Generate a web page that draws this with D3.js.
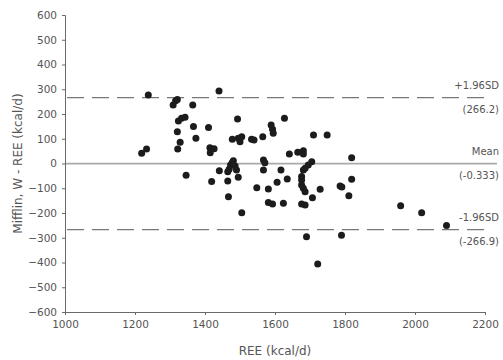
<!DOCTYPE html>
<html>
<head>
<meta charset="utf-8">
<script src="https://cdn.jsdelivr.net/npm/d3@7"></script>
<style>
  body { margin: 0; background: #fff; }
  svg { font-family: "DejaVu Sans", sans-serif; }
</style>
</head>
<body>
<div id="chart"></div>
<script>
// REE (kcal/d) vs Mifflin - REE difference
const ree = [1219, 1233, 1238, 1309, 1316, 1321, 1324, 1333, 1343, 1321, 1329, 1322, 1346,
  1365, 1367, 1374, 1410, 1414, 1426, 1415, 1440, 1419, 1441, 1465, 1465, 1467, 1493, 1478,
  1495, 1505, 1500, 1533, 1540, 1565, 1589, 1593, 1595, 1627, 1710, 1749, 1641, 1665, 1681,
  1681, 1819, 1481, 1473, 1486, 1469, 1490, 1495, 1478, 1567, 1571, 1567, 1617, 1705, 1695,
  1686, 1681, 1548, 1581, 1606, 1635, 1676, 1676, 1676, 1681, 1686, 1729, 1786, 1791, 1819,
  1811, 1707, 1581, 1593, 1624, 1676, 1686, 1505, 1690, 1790, 1722, 1959, 2019, 2090];
const diff = [41, 59, 277, 236, 254, 259, 172, 183, 187, 128, 86, 59, -47,
  236, 149, 102, 145, 64, 60, 43, 293, -73, -29, -33, -71, -134, 180, 98,
  102, 108, 88, 98, 95, 108, 156, 138, 122, 183, 115, 115, 38, 45, 52,
  38, 23, 11, -6, -10, -23, -26, -56, 4, 14, 3, -26, -26, 7, -6,
  -19, -26, -98, -103, -76, -63, -53, -67, -87, -100, -114, -104, -91, -95, -64,
  -130, -138, -158, -164, -161, -164, -168, -199, -296, -290, -406, -171, -199, -251];

const xTicks = [1000, 1200, 1400, 1600, 1800, 2000, 2200];
const yTicks = [-600, -500, -400, -300, -200, -100, 0, 100, 200, 300, 400, 500, 600];

const meanDiff = -0.333;
const upperLoA = 266.2;
const lowerLoA = -266.9;
const refLabels = [
  { v: upperLoA, name: "+1.96SD", val: "(266.2)" },
  { v: meanDiff, name: "Mean", val: "(-0.333)" },
  { v: lowerLoA, name: "-1.96SD", val: "(-266.9)" }
];

const width = 503, height = 360;
const margin = { top: 15, right: 18, bottom: 48, left: 65 };

const svg = d3.select("#chart").append("svg")
  .attr("width", width)
  .attr("height", height);

const x = d3.scaleLinear().domain([1000, 2200]).range([margin.left, width - margin.right]);
const y = d3.scaleLinear().domain([-600, 600]).range([height - margin.bottom, margin.top]);

const axisColor = "#6a6a6a";
const textColor = "#555";

// reference lines
svg.append("line")
  .attr("x1", x(1000)).attr("x2", 497)
  .attr("y1", y(meanDiff)).attr("y2", y(meanDiff))
  .attr("stroke", "#aaa").attr("stroke-width", 1.6);

[upperLoA, lowerLoA].forEach(v => {
  svg.append("line")
    .attr("x1", x(1000) + 2).attr("x2", 485)
    .attr("y1", y(v)).attr("y2", y(v))
    .attr("stroke", "#777").attr("stroke-width", 1.3)
    .attr("stroke-dasharray", "17,8");
});

// axes
const xAxis = svg.append("g")
  .attr("transform", `translate(0,${y(-600)})`)
  .call(d3.axisBottom(x).tickValues(xTicks).tickFormat(d3.format("d")).tickSize(3).tickPadding(6));
const yAxis = svg.append("g")
  .attr("transform", `translate(${x(1000)},0)`)
  .call(d3.axisLeft(y).tickValues(yTicks).tickFormat(d3.format("d")).tickSize(3).tickPadding(5));

[xAxis, yAxis].forEach(g => {
  g.select(".domain").attr("stroke", axisColor);
  g.selectAll(".tick line").attr("stroke", axisColor);
  g.selectAll(".tick text")
    .attr("fill", textColor)
    .style("font-size", "10.5px")
    .style("font-family", "DejaVu Sans, sans-serif");
});

// points
svg.append("g")
  .selectAll("circle")
  .data(ree.map((r, i) => ({ r, d: diff[i] })))
  .join("circle")
  .attr("cx", d => x(d.r))
  .attr("cy", d => y(d.d))
  .attr("r", 3.5)
  .attr("fill", "#1c1c1c");

// right-hand labels
refLabels.forEach(l => {
  svg.append("text")
    .attr("x", 499).attr("y", y(l.v) - 9)
    .attr("text-anchor", "end")
    .attr("fill", textColor)
    .style("font-size", "10px")
    .text(l.name);
  svg.append("text")
    .attr("x", 499).attr("y", y(l.v) + 15)
    .attr("text-anchor", "end")
    .attr("fill", textColor)
    .style("font-size", "10px")
    .text(l.val);
});

// axis titles
svg.append("text")
  .attr("x", (x(1000) + x(2200)) / 2)
  .attr("y", 355)
  .attr("text-anchor", "middle")
  .attr("fill", textColor)
  .style("font-size", "12px")
  .text("REE (kcal/d)");

svg.append("text")
  .attr("transform", `translate(22,${y(0)}) rotate(-90)`)
  .attr("text-anchor", "middle")
  .attr("fill", textColor)
  .style("font-size", "12px")
  .text("Mifflin, W - REE (kcal/d)");
</script>
</body>
</html>
